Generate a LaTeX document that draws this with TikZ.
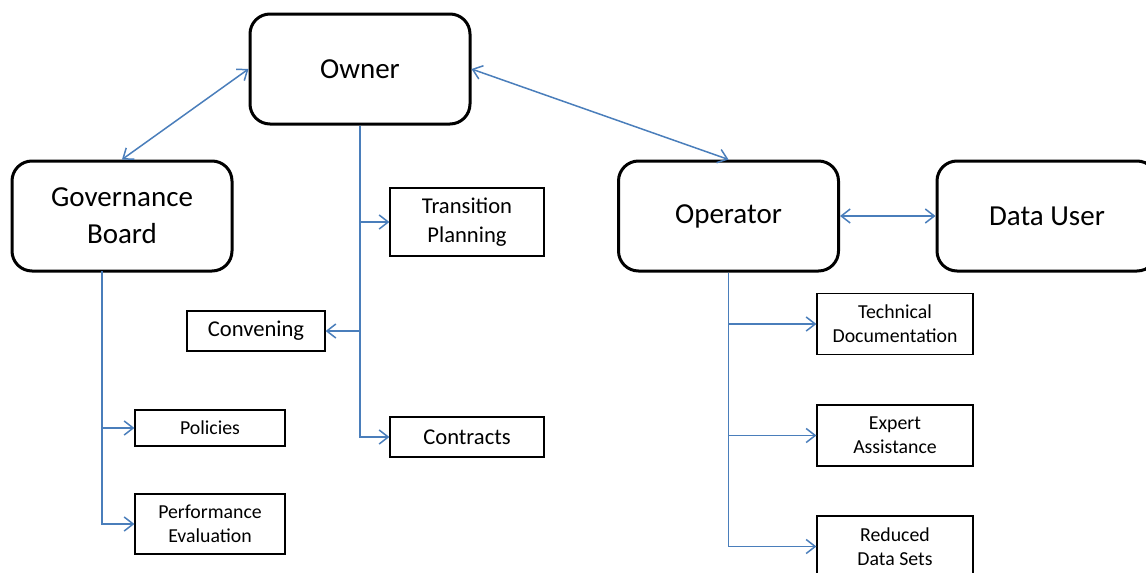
\documentclass[tikz,border=0pt]{standalone}
\usepackage{fontspec}
\setmainfont{Carlito}
\usepackage{xcolor}
\usepackage{tikz}
\usetikzlibrary{arrows.meta}

\definecolor{linkblue}{RGB}{74,126,187}

\begin{document}
\begin{tikzpicture}[x=0.5pt, y=-0.5pt,
    role/.style={draw, line width=1.5pt, rounded corners=10pt, minimum width=110pt, minimum height=55pt, align=center, font=\fontsize{14.5}{18.5}\selectfont},
    duty/.style={draw, line width=0.6pt, inner sep=0pt, align=center, font=\fontsize{11.3}{14.5}\selectfont},
    smallduty/.style={duty, font=\fontsize{9.9}{12}\selectfont},
    link/.style={draw=linkblue, line width=0.75pt},
    >={Straight Barb[length=4.5pt,width=7pt]}]
          \clip (0,0) rectangle (1146,573);

          % roles
          \node[role] (owner) at (360,69) {Owner};
          \node[role] (gov) at (122,216) {Governance\\Board};
          \node[role] (op) at (728.5,216) {Operator};
          \node[role] (user) at (1047,216) {Data User};

          % owner duties
          \node[duty, minimum width=77pt, minimum height=34pt] (trans) at (467,222) {Transition\\Planning};
          \node[duty, minimum width=69pt, minimum height=20pt] (conv) at (256,331) {Convening};
          \node[duty, minimum width=77pt, minimum height=20pt] (contr) at (467,437) {Contracts};

          % governance duties
          \node[smallduty, minimum width=75pt, minimum height=18pt] (pol) at (210,428) {Policies};
          \node[smallduty, minimum width=75pt, minimum height=30pt] (perf) at (210,524) {Performance\\Evaluation};

          % operator duties
          \foreach \y/\txt [count=\i from 1] in {324/{Technical\\Documentation}, 435.5/{Expert\\Assistance}, 546.5/{Reduced\\Data Sets}}{%
            \node[smallduty, minimum width=78pt, minimum height=30.5pt] (task\i) at (895,\y) {\txt};
          }

          \coordinate (govtrunk) at (102,271);

          \draw[link, <->] (owner.west) -- (gov.north);
          \draw[link, <->] (owner.east) -- (op.north);
          \draw[link, <->] (op.east) -- (user.west);

          \draw[link, ->] (owner.south) |- (trans.west);
          \draw[link, ->] (owner.south) |- (conv.east);
          \draw[link, ->] (owner.south) |- (contr.west);

          \draw[link, ->] (govtrunk) |- (pol.west);
          \draw[link, ->] (govtrunk) |- (perf.west);

          \foreach \i in {1,2,3}{%
            \draw[link, ->] (op.south) |- (task\i.west);
          }
        \end{tikzpicture}
\end{document}
